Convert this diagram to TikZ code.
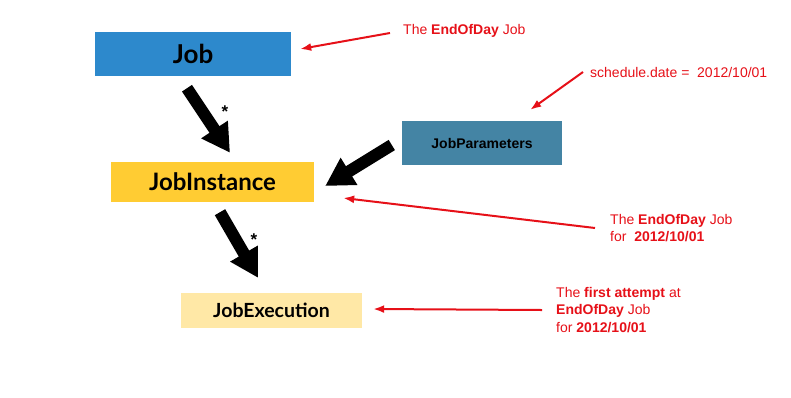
\documentclass[tikz,border=0pt]{standalone}
\usepackage{fontspec}
\setmainfont{Liberation Sans}
\newfontfamily\boxfont{Lato}
\usetikzlibrary{arrows.meta}
\definecolor{jobblue}{RGB}{45,137,204}
\definecolor{instyellow}{RGB}{255,204,51}
\definecolor{execyellow}{RGB}{255,232,166}
\definecolor{parmblue}{RGB}{68,132,164}
\definecolor{notered}{RGB}{230,16,24}

\begin{document}
\begin{tikzpicture}[x=1pt, y=-1pt,
    box/.style={inner sep=0pt, text=black},
    bigarrow/.style={line width=12pt, -{Triangle[width=30pt,length=28pt]}},
    notearrow/.style={notered, line width=2pt, -{Latex[length=11pt,width=8pt]}},
    note/.style={text=notered, anchor=west, align=left, inner sep=0pt,
        font=\fontsize{14}{17.5}\selectfont}]
    \useasboundingbox (0,0) rectangle (791,397);
    % entity boxes
    \node[box, fill=jobblue, minimum width=196pt, minimum height=44pt,
        font=\boxfont\bfseries\fontsize{26}{30}\selectfont] (job) at (193,54) {Job};
    \node[box, fill=instyellow, minimum width=203pt, minimum height=40pt,
        font=\boxfont\bfseries\fontsize{24}{28}\selectfont] (inst) at (212.5,182) {JobInstance};
    \node[box, fill=execyellow, minimum width=181pt, minimum height=35pt,
        font=\boxfont\bfseries\fontsize{19.5}{23}\selectfont] (exec) at (271.5,310.5) {JobExecution};
    \node[box, fill=parmblue, minimum width=160pt, minimum height=44pt,
        font=\bfseries\fontsize{14}{17}\selectfont] (parm) at (482,143) {JobParameters};
    % big arrows
    \draw[bigarrow] ([xshift=-6pt,yshift=-12pt]job.south) -- ([xshift=17.5pt,yshift=9pt]inst.north);
    \draw[bigarrow] ([xshift=7.5pt,yshift=-10pt]inst.south) -- ([xshift=-13.5pt,yshift=15pt]exec.north);
    \draw[bigarrow] ([xshift=-10pt,yshift=-2pt]parm.west) -- ([xshift=11pt,yshift=-4pt]inst.east);
    \node[font=\bfseries\fontsize{17}{17}\selectfont] (star1) at (225,112) {*};
    \node[font=\bfseries\fontsize{17}{17}\selectfont] (star2) at (254,240) {*};
    % notes
    \node[note] (n1) at (403,31) {The \textbf{EndOfDay} Job};
    \node[note] (n2) at (590,72) {schedule.date = \ 2012/10/01};
    \node[note] (n3) at (610,228) {The \textbf{EndOfDay} Job\\for \ \textbf{2012/10/01}};
    \node[note] (n4) at (556,310) {The \textbf{first attempt} at\\\textbf{EndOfDay} Job\\for \textbf{2012/10/01}};
    \draw[notearrow] ([xshift=-13pt,yshift=-2pt]n1.west) -- ([xshift=9pt,yshift=5pt]job.east);
    \draw[notearrow] ([xshift=-7pt]n2.west) -- ([xshift=-32pt,yshift=11pt]parm.north east);
    \draw[notearrow] ([xshift=-15pt]n3.west) -- ([xshift=29pt,yshift=-16pt]inst.east);
    \draw[notearrow] ([xshift=-14pt]n4.west) -- ([xshift=11pt,yshift=1.5pt]exec.east);
\end{tikzpicture}
\end{document}
